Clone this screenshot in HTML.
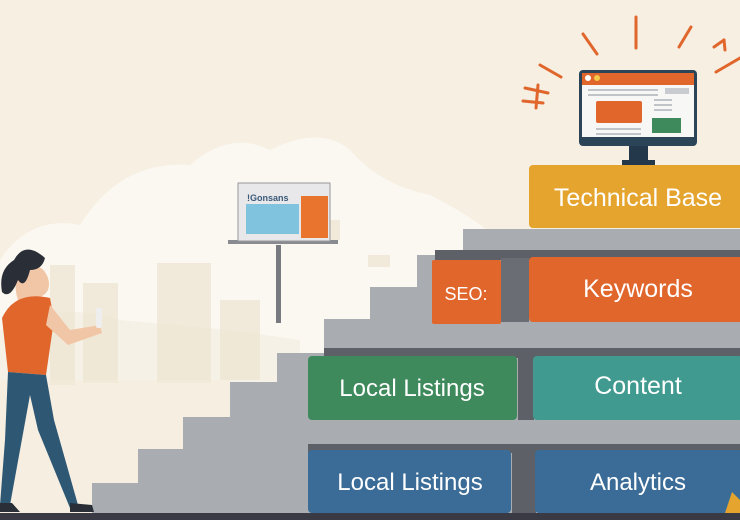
<!DOCTYPE html>
<html><head><meta charset="utf-8"><style>
html,body{margin:0;padding:0;width:740px;height:520px;overflow:hidden;background:#f6efe2}
svg{display:block}
text{font-family:"Liberation Sans",sans-serif;fill:#fff}
</style></head><body>
<svg width="740" height="520" viewBox="0 0 740 520" xmlns="http://www.w3.org/2000/svg">
<rect width="740" height="520" fill="#f6efe2"/>
<!-- cloud / haze -->
<path d="M0 520 L0 260 Q30 215 80 225 Q120 160 190 165 Q230 130 270 150 Q320 125 350 150 Q380 185 430 195 Q470 215 500 240 L500 520 Z" fill="#fbf8f2"/>
<path d="M0 520 L0 330 Q60 300 120 320 L230 330 L300 340 L300 520Z" fill="#f4ecdd" opacity="0.6"/>
<!-- buildings -->
<g fill="#efe6d4" opacity="0.8">
<rect x="50" y="265" width="25" height="120"/><rect x="83" y="283" width="35" height="100"/>
<rect x="157" y="263" width="54" height="120"/><rect x="220" y="300" width="40" height="80"/>
<rect x="310" y="220" width="30" height="20"/><rect x="368" y="255" width="22" height="12"/>
</g>
<rect x="0" y="380" width="230" height="140" fill="#f3ebdb" opacity="0.5"/>
<!-- stairs -->
<path d="M92 513 L92 483 L138 483 L138 449 L183 449 L183 417 L230 417 L230 382 L277 382 L277 353 L324 353 L324 319 L370 319 L370 287 L417 287 L417 255 L463 255 L463 229 L740 229 L740 513 Z" fill="#a9adb1"/>
<rect x="324" y="348" width="416" height="10" fill="#5d6066"/>
<rect x="308" y="444" width="432" height="9" fill="#5d6066"/>
<rect x="512" y="450" width="24" height="63" fill="#5d6066"/>
<rect x="518" y="356" width="16" height="64" fill="#5d6066"/>
<rect x="435" y="250" width="305" height="10" fill="#5d6066"/>
<rect x="501" y="258" width="28" height="64" fill="#6a6d73"/>
<!-- boxes -->
<rect x="529" y="165" width="215" height="63" rx="4" fill="#e4a42e"/>
<text x="638" y="206" font-size="25" text-anchor="middle">Technical Base</text>
<rect x="529" y="257" width="215" height="65" rx="4" fill="#e0662c"/>
<text x="638" y="297" font-size="25" text-anchor="middle">Keywords</text>
<rect x="432" y="260" width="69" height="64" rx="2" fill="#e0662c"/>
<text x="466" y="300" font-size="18" text-anchor="middle">SEO:</text>
<rect x="308" y="356" width="209" height="64" rx="4" fill="#3f8a5c"/>
<text x="412" y="396" font-size="24" text-anchor="middle">Local Listings</text>
<rect x="533" y="356" width="210" height="64" rx="4" fill="#409a8f"/>
<text x="638" y="394" font-size="25" text-anchor="middle">Content</text>
<rect x="308" y="450" width="203" height="63" rx="4" fill="#3a6c97"/>
<text x="410" y="490" font-size="24" text-anchor="middle">Local Listings</text>
<rect x="535" y="450" width="208" height="63" rx="4" fill="#3a6c97"/>
<text x="638" y="490" font-size="24" text-anchor="middle">Analytics</text>
<path d="M725 513 L732 492 L740 500 L740 513Z" fill="#e4a42e"/>
<rect x="0" y="513" width="740" height="7" fill="#3a3a44"/>
<!-- billboard -->
<rect x="276" y="245" width="5" height="78" fill="#777b80"/>
<rect x="228" y="240" width="110" height="4" fill="#888c91"/>
<rect x="238" y="183" width="92" height="58" fill="#e8e8ea" stroke="#999" stroke-width="1"/>
<rect x="246" y="204" width="53" height="30" fill="#7fc3df"/>
<rect x="301" y="196" width="27" height="42" fill="#e8742d"/>
<text x="247" y="201" font-size="9" font-weight="bold" style="fill:#3a5a7a">!Gonsans</text>
<!-- monitor -->
<g stroke="#e0662c" stroke-width="3" stroke-linecap="round">
<line x1="636" y1="17" x2="636" y2="48"/><line x1="583" y1="34" x2="597" y2="54"/>
<line x1="691" y1="27" x2="679" y2="47"/><line x1="540" y1="65" x2="561" y2="77"/>
<line x1="716" y1="72" x2="740" y2="58"/><line x1="525" y1="88" x2="548" y2="93"/>
<line x1="523" y1="101" x2="543" y2="103"/><line x1="538" y1="85" x2="536" y2="108"/>
<line x1="714" y1="47" x2="724" y2="40"/><line x1="724" y1="40" x2="725" y2="50"/>
</g>
<rect x="629" y="145" width="19" height="16" fill="#23384a"/>
<rect x="622" y="160" width="33" height="5" fill="#23384a"/>
<rect x="579" y="70" width="118" height="76" rx="4" fill="#2b4457"/>
<rect x="582" y="73" width="112" height="64" fill="#f7f7f5"/>
<rect x="582" y="73" width="112" height="12" fill="#e0662c"/>
<circle cx="588" cy="78" r="3" fill="#fff"/><circle cx="597" cy="78" r="3" fill="#f3c94a"/>
<rect x="596" y="101" width="46" height="22" rx="2" fill="#e0662c"/>
<rect x="652" y="118" width="29" height="15" fill="#3f8a5c"/>
<rect x="665" y="88" width="24" height="6" fill="#c8ccd0"/>
<g fill="#c0c4c8"><rect x="588" y="89" width="70" height="2"/><rect x="588" y="94" width="70" height="2"/><rect x="654" y="99" width="18" height="2"/><rect x="654" y="104" width="18" height="2"/><rect x="654" y="109" width="18" height="2"/><rect x="596" y="128" width="45" height="2"/><rect x="596" y="133" width="45" height="2"/></g>
<!-- woman -->
<path d="M18 300 Q10 275 28 268 Q42 262 48 278 Q52 292 40 297 Z" fill="#f1c6a6"/>
<path d="M14 260 Q25 240 45 258 Q42 270 30 270 Q25 290 18 280 Q10 300 2 292 Q-2 270 14 260Z" fill="#2a2e36"/>
<path d="M2 318 Q15 290 50 298 L54 320 L46 375 L8 372 Z" fill="#e0662c"/>
<path d="M50 305 L70 330 L100 325 L102 333 L68 345 L46 325Z" fill="#f1c6a6"/>
<rect x="96" y="308" width="6" height="20" rx="2" fill="#eee"/>
<path d="M8 372 L46 375 L54 420 L78 505 L70 508 L38 430 L30 395 L20 450 L10 505 L0 505 L5 440Z" fill="#2e5774"/>
<path d="M70 503 L92 505 L94 512 L70 512Z" fill="#2a2e36"/>
<path d="M0 503 L12 503 L20 512 L0 512Z" fill="#2a2e36"/>
</svg>
</body></html>
